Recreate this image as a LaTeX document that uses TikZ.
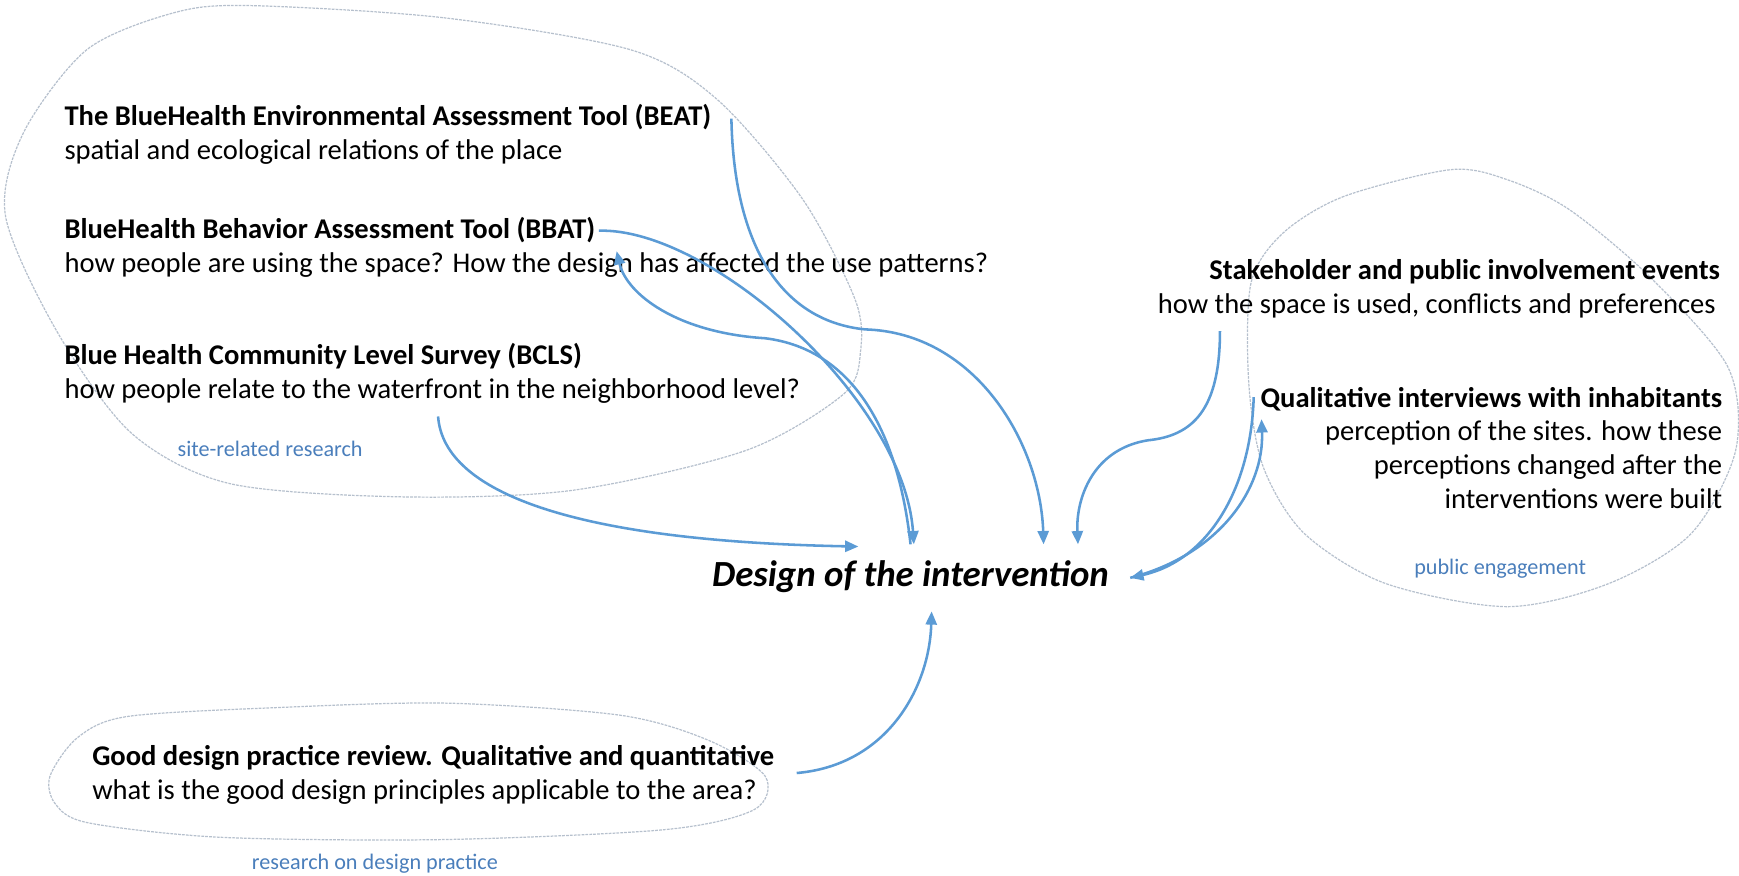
\documentclass[tikz,border=0pt]{standalone}
\usepackage{fontspec}
\setmainfont{Carlito}
\usepackage{xcolor}
\usetikzlibrary{arrows.meta,positioning}
\definecolor{flowblue}{RGB}{91,155,213}
\definecolor{tagblue}{RGB}{74,126,187}
\definecolor{blobgray}{RGB}{182,192,205}

\begin{document}
\begin{tikzpicture}[x=1pt,y=-1pt,inner sep=0pt,
  headtxt/.style={font=\fontsize{25.75}{30.5}\selectfont\bfseries},
  desctxt/.style={font=\fontsize{25.75}{30.5}\selectfont},
  grouplbl/.style={font=\fontsize{20}{24}\selectfont,text=tagblue,anchor=base west},
  blob/.style={draw=blobgray,line width=1.1pt,dash pattern=on 2.5pt off 1pt},
  flow/.style={draw=flowblue,line width=2.3pt,-{Triangle[length=12pt,width=10pt]}}]
\useasboundingbox (0,0) rectangle (1568,789);

\draw[blob] plot[smooth cycle] coordinates {(223,5) (400,16) (569,45) (647,90) (724,180) (771,270) (776,316) (761,355) (673,406) (517,442) (362,448) (207,436) (119,391) (52,300) (5,195) (21,120) (78,45) (155,12)};
\draw[blob] plot[smooth cycle] coordinates {(1308,153) (1212,177) (1157,210) (1128,255) (1126,346) (1139,421) (1176,481) (1249,526) (1359,547) (1451,526) (1525,481) (1565,406) (1558,331) (1488,250) (1415,189) (1359,162)};
\draw[blob] plot[smooth cycle] coordinates {(45,700) (70,665) (115,646) (250,638) (403,634) (560,645) (640,668) (690,700) (680,730) (600,748) (400,757) (200,755) (80,742) (50,725)};

\node[headtxt,anchor=base west] (beat) at (58,113) {The BlueHealth Environmental Assessment Tool (BEAT)};
\node[desctxt,anchor=base west] (beatd) at ([yshift=-30.5pt]beat.base west) {spatial and ecological relations of the place};
\node[headtxt,anchor=base west] (bbat) at (58,215) {BlueHealth Behavior Assessment Tool (BBAT)};
\node[desctxt,anchor=base west] (bbatd) at ([yshift=-30.5pt]bbat.base west) {how people are using the space? How the design has affected the use patterns?};
\node[headtxt,anchor=base west] (bcls) at (58,329) {Blue Health Community Level Survey (BCLS)};
\node[desctxt,anchor=base west] (bclsd) at ([yshift=-30.5pt]bcls.base west) {how people relate to the waterfront in the neighborhood level?};
\node[grouplbl] (sitelbl) at (160,412) {site-related research};

\node[headtxt,anchor=base east] (stake) at (1551,252) {Stakeholder and public involvement events};
\node[desctxt,anchor=base east] (staked) at ([xshift=-4pt,yshift=-30.5pt]stake.base east) {how the space is used, conflicts and preferences};
\node[headtxt,anchor=base east] (interv) at (1553,367) {Qualitative interviews with inhabitants};
\node[desctxt,anchor=base east,align=right] (intervd) at ([yshift=-91.5pt]interv.base east) {perception of the sites. how these\\perceptions changed after the\\interventions were built};
\node[grouplbl] (publiclbl) at (1275,518) {public engagement};

\node[headtxt,anchor=base west] (review) at (83,690) {Good design practice review. Qualitative and quantitative};
\node[desctxt,anchor=base west] (reviewd) at ([yshift=-31pt]review.base west) {what is the good design principles applicable to the area?};
\node[grouplbl] (practicelbl) at (227,784) {research on design practice};

\node[font=\fontsize{33.2}{39}\selectfont\bfseries\itshape,text height=23pt,text depth=7pt,inner xsep=19pt,inner ysep=15pt,anchor=base] (design) at (821,529) {Design of the intervention};

\draw[flow] ([xshift=18pt,yshift=6pt]beat.base east) .. controls (662,230) and (710,290) .. (780,297) .. controls (880,300) and (938,400) .. ([xshift=120pt]design.north);
\draw[flow] ([xshift=3pt,yshift=7pt]bbat.base east) .. controls (640,205) and (815,360) .. ([xshift=3pt]design.north);
\draw[flow] (design.north) .. controls (810,390) and (770,315) .. (690,305) .. controls (610,300) and (565,265) .. ([xshift=498pt,yshift=19pt]bbatd.base west);
\draw[flow] ([xshift=337pt,yshift=-16pt]bclsd.base west) .. controls (400,445) and (520,488) .. ([xshift=-47pt,yshift=-2pt]design.north);
\draw[flow] ([xshift=-447pt,yshift=-16pt]staked.base east) .. controls (1100,370) and (1075,393) .. (1035,397) .. controls (985,405) and (970,450) .. ([xshift=151pt]design.north);
\draw[flow] ([xshift=-6pt,yshift=9pt]interv.base west) .. controls (1128,440) and (1090,505) .. (design.east);
\draw[flow] (design.east) .. controls (1100,500) and (1140,440) .. ([xshift=1pt,yshift=-11pt]interv.base west);
\draw[flow] ([xshift=20pt,yshift=-7pt]review.base east) .. controls (800,690) and (838,620) .. ([xshift=19pt]design.south);
\end{tikzpicture}
\end{document}
